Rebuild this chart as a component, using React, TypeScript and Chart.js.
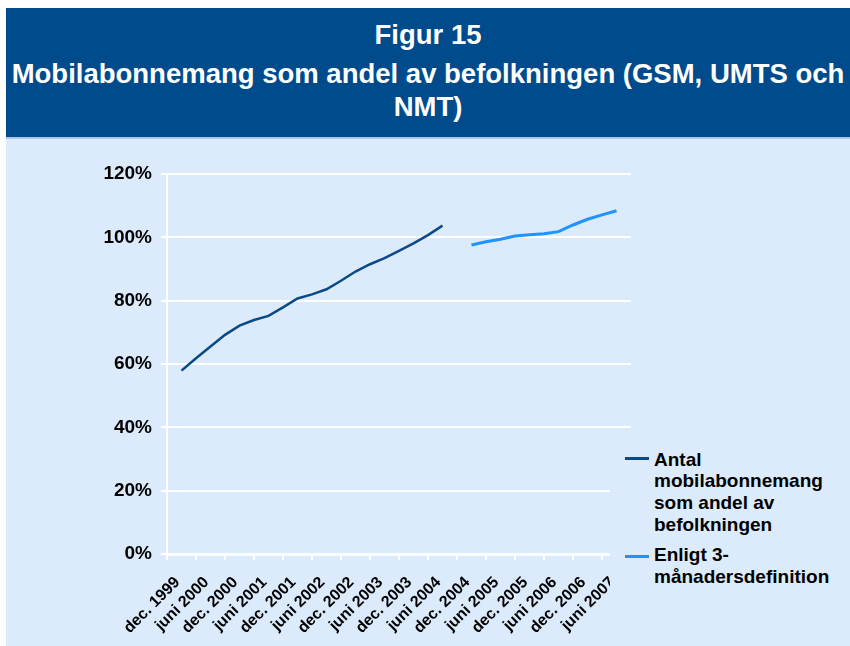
import React, { useEffect, useRef } from "react";
import { Chart, registerables } from "chart.js";

Chart.register(...registerables);

// Quarterly category positions; only "dec." and "juni" positions carry a visible label.
const quarterLabels = [
  "sep. 1999", "dec. 1999", "mars 2000", "juni 2000", "sep. 2000", "dec. 2000",
  "mars 2001", "juni 2001", "sep. 2001", "dec. 2001", "mars 2002", "juni 2002",
  "sep. 2002", "dec. 2002", "mars 2003", "juni 2003", "sep. 2003", "dec. 2003",
  "mars 2004", "juni 2004", "sep. 2004", "dec. 2004", "mars 2005", "juni 2005",
  "sep. 2005", "dec. 2005", "mars 2006", "juni 2006", "sep. 2006", "dec. 2006",
  "mars 2007", "juni 2007", "sep. 2007",
];

const seriesNames = [
  "Antal mobilabonnemang som andel av befolkningen",
  "Enligt 3-månadersdefinition",
];

// Antal mobilabonnemang (%), quarterly from dec. 1999 to juni 2004
const antalStart = "dec. 1999";
const antalValues = [
  57.9, 61.8, 65.5, 69.2, 72.1, 73.9, 75.2, 77.9, 80.7, 82.0,
  83.6, 86.3, 89.2, 91.5, 93.4, 95.7, 98.1, 100.7, 103.7,
];

// Enligt 3-månadersdefinition (%), quarterly from dec. 2004 to juni 2007
const enligtStart = "dec. 2004";
const enligtValues = [97.6, 98.6, 99.4, 100.4, 100.8, 101.1, 101.8, 103.9, 105.7, 107.1, 108.4];

const yTicks = [0, 20, 40, 60, 80, 100, 120];

const titleLines = [
  "Figur 15",
  "Mobilabonnemang som andel av befolkningen (GSM, UMTS och",
  "NMT)",
];

const DARK = "#0a4a86";
const LIGHT = "#1f93ff";
const HEADER_BG = "#004b8c";
const PANEL_BG = "#dcebfc";
const FONT = "'Liberation Sans', Arial, Helvetica, sans-serif";

function placeSeries(start: string, values: number[]): (number | null)[] {
  const out: (number | null)[] = quarterLabels.map(() => null);
  const s = quarterLabels.indexOf(start);
  values.forEach((v, i) => {
    out[s + i] = v;
  });
  return out;
}

export default function App() {
  const canvasRef = useRef<HTMLCanvasElement | null>(null);

  useEffect(() => {
    if (!canvasRef.current) return;
    Chart.defaults.font.family = FONT;
    const chart = new Chart(canvasRef.current, {
      type: "line",
      data: {
        labels: quarterLabels,
        datasets: [
          {
            label: seriesNames[0],
            data: placeSeries(antalStart, antalValues),
            borderColor: DARK,
            backgroundColor: DARK,
            borderWidth: 2.5,
            pointRadius: 0,
            tension: 0,
            spanGaps: false,
          },
          {
            label: seriesNames[1],
            data: placeSeries(enligtStart, enligtValues),
            borderColor: LIGHT,
            backgroundColor: LIGHT,
            borderWidth: 3,
            pointRadius: 0,
            tension: 0,
            spanGaps: false,
          },
        ],
      },
      options: {
        animation: false,
        responsive: false,
        maintainAspectRatio: false,
        layout: { padding: { left: 0, right: 218, top: 35, bottom: 0 } },
        plugins: {
          legend: { display: false },
          title: { display: false },
          tooltip: { enabled: false },
        },
        scales: {
          x: {
            type: "category",
            offset: false,
            grid: {
              drawOnChartArea: false,
              drawTicks: true,
              tickLength: 6,
              lineWidth: 2,
              color: (ctx: any) => (ctx.index % 2 === 0 ? "#ffffff" : "rgba(0,0,0,0)"),
            },
            border: { color: "#ffffff", width: 3 },
            ticks: {
              autoSkip: false,
              maxRotation: 45,
              minRotation: 45,
              color: "#000000",
              padding: 13,
              labelOffset: -4,
              font: { family: FONT, size: 16, weight: "bold" },
              callback: (_v: any, i: number) => (i % 2 === 1 ? quarterLabels[i] : ""),
            },
            afterFit: (s: any) => {
              s.height = 92;
            },
          },
          y: {
            min: yTicks[0],
            max: yTicks[yTicks.length - 1],
            afterBuildTicks: (s: any) => {
              s.ticks = yTicks.map((v) => ({ value: v }));
            },
            grid: { color: "#ffffff", lineWidth: 2, tickLength: 6, drawTicks: true },
            border: { color: "#ffffff", width: 2 },
            ticks: {
              color: "#000000",
              padding: 9,
              font: { family: FONT, size: 19, weight: "bold" },
              callback: (v: any) => `${v}%`,
            },
            afterFit: (s: any) => {
              s.width = 162;
            },
          },
        },
      },
    } as any);
    return () => chart.destroy();
  }, []);

  const titleTops = [18, 57, 90];

  return (
    <div
      style={{
        position: "fixed",
        left: 0,
        top: 0,
        width: 850,
        height: 646,
        background: "#ffffff",
        overflow: "hidden",
        fontFamily: FONT,
      }}
    >
      <div
        style={{
          position: "absolute",
          left: 6,
          top: 8,
          width: 844,
          height: 129,
          background: HEADER_BG,
          color: "#ffffff",
        }}
      >
        {titleLines.map((t, i) => (
          <div
            key={i}
            style={{
              position: "absolute",
              left: 0,
              width: "100%",
              top: titleTops[i] - 8,
              textAlign: "center",
              fontSize: 27.5,
              fontWeight: "bold",
              lineHeight: "33px",
              whiteSpace: "nowrap",
            }}
          >
            {t}
          </div>
        ))}
      </div>
      <div
        style={{
          position: "absolute",
          left: 6,
          top: 137,
          width: 844,
          height: 2,
          background: "#a9c9ef",
        }}
      />
      <div
        style={{
          position: "absolute",
          left: 6,
          top: 139,
          width: 844,
          height: 507,
          background: PANEL_BG,
        }}
      >
        <canvas
          ref={canvasRef}
          width={844}
          height={507}
          style={{ position: "absolute", left: -1, top: 0, width: 844, height: 507 }}
        />
      </div>
      {/* Legend box (covers the plot edge like the original) */}
      <div
        style={{
          position: "absolute",
          left: 610,
          top: 440,
          width: 240,
          height: 152,
          background: PANEL_BG,
        }}
      />
      {seriesNames.map((name, i) => {
        const lineY = i === 0 ? 458 : 556;
        const textTop = i === 0 ? 448.5 : 544.3;
        return (
          <React.Fragment key={name}>
            <div
              style={{
                position: "absolute",
                left: 625,
                top: lineY - 1.5,
                width: 24,
                height: 3,
                background: i === 0 ? DARK : LIGHT,
              }}
            />
            <div
              style={{
                position: "absolute",
                left: 654,
                top: textTop,
                width: 190,
                fontSize: 19,
                fontWeight: "bold",
                lineHeight: "21.7px",
                color: "#000000",
              }}
            >
              {name}
            </div>
          </React.Fragment>
        );
      })}
    </div>
  );
}
